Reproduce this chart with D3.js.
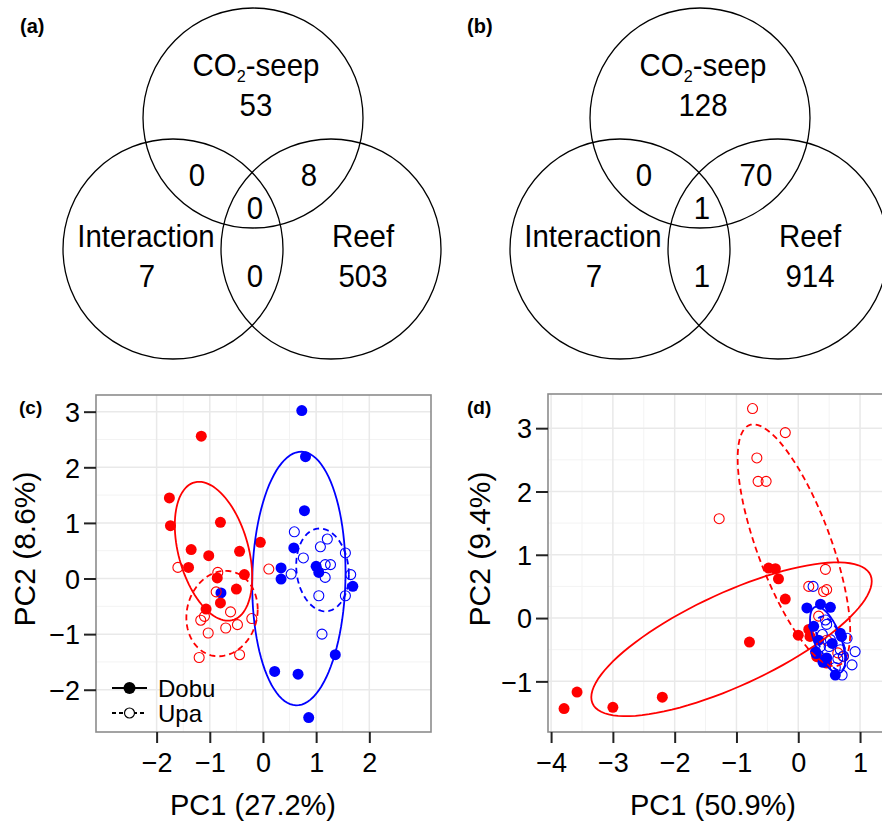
<!DOCTYPE html>
<html>
<head>
<meta charset="utf-8">
<script src="https://cdn.jsdelivr.net/npm/d3@7/dist/d3.min.js"></script>
<style>
  html, body { margin: 0; padding: 0; background: #fff; }
  svg { display: block; font-family: "Liberation Sans", Arial, Helvetica, sans-serif; }
</style>
</head>
<body>
<div id="chart"></div>
<script>
// Venn counts, order: seep only, interaction only, reef only, seep&int, seep&reef, int&reef, all three
const vennSets = ['CO2-seep', 'Interaction', 'Reef'];
const vennCountsA = [53, 7, 503, 0, 8, 0, 0];
const vennCountsB = [128, 7, 914, 0, 70, 1, 1];

// PCA (c) — [PC1, PC2]
const cRedDobu = [[-1.16, 2.56], [-1.76, 1.45], [-1.74, 0.95], [-0.80, 1.01], [-1.35, 0.52], [-1.02, 0.41],
  [-0.44, 0.49], [-0.05, 0.65], [-1.40, 0.20], [-0.35, 0.07], [-0.86, 0.01], [-0.50, -0.19], [-0.80, -0.44], [-1.07, -0.55]];
const cRedUpa = [[-1.60, 0.20], [-0.85, 0.11], [-0.88, -0.24], [-1.10, -0.68], [-1.17, -0.75], [-0.61, -0.60],
  [-0.21, -0.72], [-0.70, -0.89], [-0.48, -0.83], [-1.03, -0.98], [-1.20, -1.42], [-0.44, -1.37], [0.11, 0.17]];
const cBlueDobu = [[0.73, 3.02], [0.80, 2.19], [0.78, 1.22], [0.58, 0.55], [0.34, 0.19], [0.34, -0.01], [1.00, 0.22],
  [1.05, 0.11], [1.69, -0.14], [1.36, -1.37], [0.22, -1.67], [0.66, -1.72], [0.86, -2.50], [-0.79, -0.26]];
const cBlueUpa = [[0.59, 0.84], [1.21, 0.71], [1.08, 0.57], [0.76, 0.37], [1.55, 0.46], [1.17, 0.25], [1.27, 0.25],
  [0.53, 0.08], [1.17, 0.02], [1.65, 0.07], [1.05, -0.31], [1.55, -0.31], [1.11, -1.00]];

// PCA (d) — [PC1, PC2]
const dRedDobu = [[-3.79, -1.43], [-3.58, -1.17], [-3.00, -1.41], [-2.20, -1.25], [-0.79, -0.38], [-0.48, 0.79],
  [-0.37, 0.78], [-0.32, 0.62], [-0.21, 0.30], [0.00, -0.27], [0.17, -0.18], [0.19, -0.29], [0.30, -0.61], [0.46, -0.71]];
const dRedUpa = [[-0.74, 3.31], [-0.21, 2.93], [-0.67, 2.53], [-0.65, 2.16], [-0.52, 2.16], [-1.28, 1.57], [0.44, 0.77],
  [0.17, 0.50], [0.41, 0.42], [0.46, 0.45], [0.33, 0.03], [0.46, -0.35], [0.73, -0.61], [0.64, -0.55]];
const dBlueDobu = [[0.14, 0.16], [0.36, 0.22], [0.52, 0.17], [0.28, -0.53], [0.29, -0.56], [0.68, -0.24], [0.70, -0.29],
  [0.60, -0.90], [0.46, -0.63], [0.25, -0.13], [0.40, -0.70], [0.55, -0.40], [0.33, -0.35]];
const dBlueUpa = [[0.24, 0.50], [0.44, -0.03], [0.46, -0.10], [0.52, -0.34], [0.68, -0.50], [0.92, -0.53], [0.87, -0.74],
  [0.71, -0.90], [0.64, -0.64], [0.36, -0.45], [0.73, -0.60], [0.79, -0.32], [0.50, -0.45], [0.60, -0.78], [0.39, -0.26]];

// 95% ellipses: [centerX, centerY, varX, varY, covXY]
const cEllRedDobu = [-0.93, 0.49, 0.53, 1.56, -0.34];
const cEllRedUpa = [-0.77, -0.63, 0.45, 0.59, 0.05];
const cEllBlueDobu = [0.675, 0.0, 0.77, 5.2, 0.1];
const cEllBlueUpa = [1.12, 0.155, 0.245, 0.555, -0.04];
const dEllRedDobu = [-1.08, -0.335, 5.15, 1.476, 2.08];
const dEllRedUpa = [-0.07, 1.15, 0.83, 3.65, -1.25];
const dEllBlueDobu = [0.475, -0.345, 0.081, 0.276, -0.09];
const dEllBlueUpa = [0.53, -0.40, 0.06, 0.18, -0.06];

// axis breaks and titles
const cXBreaks = [-2, -1, 0, 1, 2];
const cYBreaks = [-2, -1, 0, 1, 2, 3];
const dXBreaks = [-4, -3, -2, -1, 0, 1];
const dYBreaks = [-1, 0, 1, 2, 3];
const cTitles = ['PC1 (27.2%)', 'PC2 (8.6%)'];
const dTitles = ['PC1 (50.9%)', 'PC2 (9.4%)'];
const legendLabels = ['Dobu', 'Upa'];

const RED = '#ff0000', BLUE = '#0000ff';

const svg = d3.select('#chart').append('svg')
  .attr('width', 882).attr('height', 825);

// text helper; sx squeezes glyphs horizontally
function addText(g, x, y, str, size, opts = {}) {
  const sx = opts.sx || 1;
  const t = g.append('text')
    .attr('transform', `translate(${x},${y}) ${opts.rotate ? 'rotate(-90)' : ''} scale(${sx},1)`)
    .attr('text-anchor', opts.anchor || 'middle')
    .attr('font-size', size)
    .attr('font-weight', opts.bold ? 700 : 400)
    .attr('fill', '#000');
  t.text(str);
  return t;
}

// ---------- Venn ----------
function drawVenn(ox, counts, tag) {
  const g = svg.append('g').attr('transform', `translate(${ox},0)`);
  const r = 110;
  const circles = [[253, 118], [173, 249], [331, 249]];
  g.selectAll('circle').data(circles).enter().append('circle')
    .attr('cx', d => d[0]).attr('cy', d => d[1]).attr('r', r)
    .attr('fill', 'none').attr('stroke', '#000').attr('stroke-width', 1.3);

  const fs = 31, sx = 0.95;
  const seep = g.append('text')
    .attr('transform', `translate(256,76) scale(${sx},1)`)
    .attr('text-anchor', 'middle').attr('font-size', fs);
  seep.append('tspan').text('CO');
  seep.append('tspan').attr('font-size', fs * 0.55).attr('dy', 6).text('2');
  seep.append('tspan').attr('dy', -6).text('-seep');
  addText(g, 146, 247, vennSets[1], fs, { sx });
  addText(g, 363, 247, vennSets[2], fs, { sx });

  const spots = [[256, 116], [147, 287], [363, 287], [197, 186], [309, 186], [255, 287], [255, 219]];
  counts.forEach((c, i) => addText(g, spots[i][0], spots[i][1], String(c), fs, { sx }));

  addText(svg, ox + 20, 33, tag, 20, { anchor: 'start', bold: true });
}
drawVenn(0, vennCountsA, '(a)');
drawVenn(447, vennCountsB, '(b)');

// ---------- PCA panels ----------
function ellipsePts(e) {
  const [cx, cy, sxx, syy, sxy] = e;
  const a = Math.sqrt(sxx), b = sxy / a, c = Math.sqrt(syy - b * b);
  return d3.range(0, 101).map(i => {
    const t = i / 100 * 2 * Math.PI;
    return [cx + a * Math.cos(t), cy + b * Math.cos(t) + c * Math.sin(t)];
  });
}

const fmt = d => String(d).replace('-', '\u2212');

function drawPCA(cfg) {
  const { x, y, xBreaks, yBreaks, titles, tag, layers, ellipses } = cfg;
  const g = svg.append('g');
  const [x0, x1] = x.range(), [y0, y1] = y.range();

  g.append('rect').attr('x', x0).attr('y', y1).attr('width', x1 - x0).attr('height', y0 - y1)
    .attr('fill', '#fff');

  // minor grid between breaks
  const minor = (br) => br.slice(1).map((v, i) => (v + br[i]) / 2);
  g.selectAll('.vminor').data(minor(xBreaks)).enter().append('line')
    .attr('x1', d => x(d)).attr('x2', d => x(d)).attr('y1', y0).attr('y2', y1)
    .attr('stroke', '#f3f3f3').attr('stroke-width', 1);
  g.selectAll('.hminor').data(minor(yBreaks)).enter().append('line')
    .attr('y1', d => y(d)).attr('y2', d => y(d)).attr('x1', x0).attr('x2', x1)
    .attr('stroke', '#f3f3f3').attr('stroke-width', 1);
  g.selectAll('.vmajor').data(xBreaks).enter().append('line')
    .attr('x1', d => x(d)).attr('x2', d => x(d)).attr('y1', y0).attr('y2', y1)
    .attr('stroke', '#e9e9e9').attr('stroke-width', 1.5);
  g.selectAll('.hmajor').data(yBreaks).enter().append('line')
    .attr('y1', d => y(d)).attr('y2', d => y(d)).attr('x1', x0).attr('x2', x1)
    .attr('stroke', '#e9e9e9').attr('stroke-width', 1.5);

  // points
  layers.forEach(l => {
    g.append('g').selectAll('circle').data(l.data).enter().append('circle')
      .attr('cx', d => x(d[0])).attr('cy', d => y(d[1]))
      .attr('r', l.open ? 5 : 5.5)
      .attr('fill', l.open ? 'none' : l.color)
      .attr('stroke', l.color).attr('stroke-width', l.open ? 1.1 : 0);
  });

  // ellipses
  const line = d3.line().x(d => x(d[0])).y(d => y(d[1]));
  ellipses.forEach(e => {
    g.append('path').attr('d', line(ellipsePts(e.data)))
      .attr('fill', 'none').attr('stroke', e.color).attr('stroke-width', 1.8)
      .attr('stroke-dasharray', e.dashed ? '6,4' : null);
  });

  // border
  g.append('rect').attr('x', x0).attr('y', y1).attr('width', x1 - x0).attr('height', y0 - y1)
    .attr('fill', 'none').attr('stroke', '#8c8c8c').attr('stroke-width', 1.6);

  // axes
  const ax = g.append('g').attr('transform', `translate(0,${y0})`)
    .call(d3.axisBottom(x).tickValues(xBreaks).tickSize(11).tickPadding(4).tickFormat(fmt));
  const ay = g.append('g').attr('transform', `translate(${x0},0)`)
    .call(d3.axisLeft(y).tickValues(yBreaks).tickSize(12).tickPadding(4).tickFormat(fmt));
  [ax, ay].forEach(a => {
    a.select('.domain').remove();
    a.selectAll('.tick line').attr('stroke', '#222').attr('stroke-width', 2);
    a.selectAll('.tick text').attr('font-size', 27).attr('fill', '#000')
      .attr('font-family', '"Liberation Sans", Arial, sans-serif');
  });
  ax.selectAll('.tick text').attr('dy', '0.92em');
  ay.selectAll('.tick text').attr('dy', '0.36em');

  addText(svg, cfg.xtitleX, 815, titles[0], 29);
  addText(svg, cfg.ytitleX, 549, titles[1], 30, { rotate: true });
  addText(svg, cfg.tagX, 414, tag, 19, { anchor: 'start', bold: true });
  return g;
}

const gc = drawPCA({
  x: d3.scaleLinear().domain([-3.14, 3.16]).range([96, 431]),
  y: d3.scaleLinear().domain([-2.76, 3.30]).range([732, 395]),
  xBreaks: cXBreaks, yBreaks: cYBreaks, titles: cTitles, tag: '(c)',
  xtitleX: 253, ytitleX: 35, tagX: 19,
  layers: [
    { data: cBlueDobu, color: BLUE }, { data: cBlueUpa, color: BLUE, open: true },
    { data: cRedDobu, color: RED }, { data: cRedUpa, color: RED, open: true }
  ],
  ellipses: [
    { data: cEllBlueDobu, color: BLUE }, { data: cEllBlueUpa, color: BLUE, dashed: true },
    { data: cEllRedDobu, color: RED }, { data: cEllRedUpa, color: RED, dashed: true }
  ]
});

// legend in (c)
const lg = gc.append('g');
legendLabels.forEach((lab, i) => {
  const ly = 688 + i * 25;
  lg.append('line').attr('x1', 112).attr('x2', 147).attr('y1', ly).attr('y2', ly)
    .attr('stroke', '#000').attr('stroke-width', 2)
    .attr('stroke-dasharray', i ? '4,3' : null);
  lg.append('circle').attr('cx', 129.5).attr('cy', ly).attr('r', i ? 5 : 6)
    .attr('fill', i ? '#fff' : '#000').attr('stroke', '#000').attr('stroke-width', i ? 1.2 : 0);
  addText(lg, 158, ly + 8.5, lab, 24, { anchor: 'start' });
});

drawPCA({
  x: d3.scaleLinear().domain([-4.05, 1.42]).range([548, 886]),
  y: d3.scaleLinear().domain([-1.80, 3.54]).range([732, 394]),
  xBreaks: dXBreaks, yBreaks: dYBreaks, titles: dTitles, tag: '(d)',
  xtitleX: 713, ytitleX: 490, tagX: 467,
  layers: [
    { data: dRedDobu, color: RED }, { data: dRedUpa, color: RED, open: true },
    { data: dBlueDobu, color: BLUE }, { data: dBlueUpa, color: BLUE, open: true }
  ],
  ellipses: [
    { data: dEllRedDobu, color: RED }, { data: dEllRedUpa, color: RED, dashed: true },
    { data: dEllBlueDobu, color: BLUE }, { data: dEllBlueUpa, color: BLUE, dashed: true }
  ]
});
</script>
</body>
</html>
